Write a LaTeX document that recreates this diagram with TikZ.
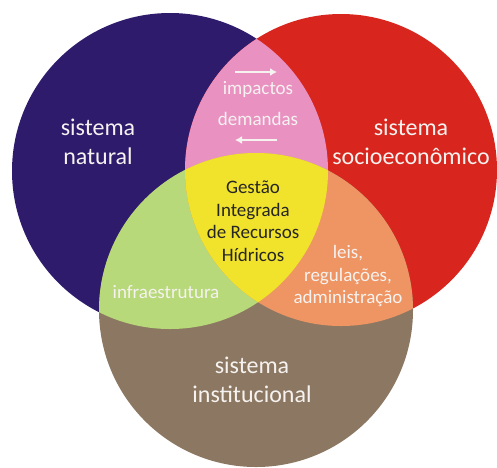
\documentclass[tikz,border=0pt]{standalone}
\usepackage{fontspec}
\setmainfont{Carlito}
\usetikzlibrary{arrows.meta}

\definecolor{natblue}{HTML}{2E1B6C}
\definecolor{socred}{HTML}{D8261E}
\definecolor{instbrown}{HTML}{8C7862}
\definecolor{impink}{HTML}{E992C2}
\definecolor{infgreen}{HTML}{B7D97A}
\definecolor{leiorange}{HTML}{EE9563}
\definecolor{girhyellow}{HTML}{F1E22C}
\definecolor{softwhite}{HTML}{F6F2F0}

\begin{document}
\begin{tikzpicture}[x=1pt,y=-1pt,
  big/.style={text=softwhite, align=center, font=\fontsize{24}{29}\selectfont},
  small/.style={text=softwhite, align=center, font=\fontsize{19}{22.5}\selectfont},
  flow/.style={softwhite, line width=2.2pt, -{Latex[length=7pt,width=8pt]}}]

\useasboundingbox (0,0) rectangle (497,467);

% Centers of the three systems
\coordinate (nat) at (170,171);
\coordinate (soc) at (341,170);
\coordinate (inst) at (256,310);

% Full circles
\fill[natblue] (nat) circle (158);
\fill[socred] (soc) circle (156);
\fill[instbrown] (inst) circle (157);

% Pairwise overlaps
\begin{scope}
  \clip (nat) circle (158);
  \fill[impink] (soc) circle (156);
  \fill[infgreen] (inst) circle (157);
\end{scope}
\begin{scope}
  \clip (soc) circle (156);
  \fill[leiorange] (inst) circle (157);
\end{scope}

% Centre overlap
\begin{scope}
  \clip (nat) circle (158);
  \clip (soc) circle (156);
  \fill[girhyellow] (inst) circle (157);
\end{scope}

% Labels of the systems
\node[big] (natural) at (98,142) {sistema\\natural};
\node[big] (socio) at (411,142) {sistema\\socioeconômico};
\node[big] (instit) at (252,380) {sistema\\institucional};

% Labels of the overlaps
\node[small] (impactos) at (258,89) {impactos};
\node[small] (demandas) at (258,119) {demandas};
\node[small] (infra) at (166,292) {infraestrutura};
\node[small] (leis) at (348,276) {leis,\\regulações,\\administração};
\node[small, text=black!85] (girh) at (253,221) {Gestão\\Integrada\\de Recursos\\Hídricos};

% Arrows between natural and socioeconomic
\coordinate (a1) at (235,72);
\coordinate (a2) at (277,72);
\coordinate (b1) at (277,140);
\coordinate (b2) at (235,140);
\draw[flow] (a1) -- (a2);
\draw[flow] (b1) -- (b2);

\end{tikzpicture}
\end{document}
